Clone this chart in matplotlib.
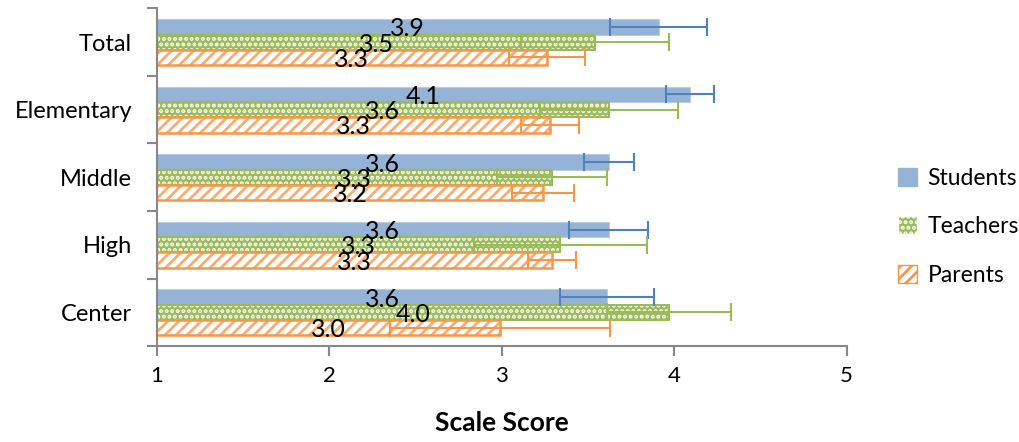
import matplotlib
matplotlib.use("Agg")
import matplotlib.pyplot as plt
import matplotlib.patches as mpatches
import numpy as np

plt.rcParams['font.family'] = ['Lato', 'DejaVu Sans']
plt.rcParams['hatch.linewidth'] = 2.0

categories = ['Total', 'Elementary', 'Middle', 'High', 'Center']
series = ['Students', 'Teachers', 'Parents']
students = [3.91, 4.09, 3.62, 3.62, 3.61]
teachers = [3.54, 3.62, 3.29, 3.34, 3.97]
parents = [3.26, 3.28, 3.24, 3.29, 2.99]
students_err = [0.28, 0.14, 0.145, 0.23, 0.27]
teachers_err = [0.43, 0.40, 0.32, 0.50, 0.36]
parents_err = [0.22, 0.17, 0.18, 0.14, 0.64]

blue = '#95B3D7'
blue_dark = '#4F81BD'
green = '#9BBB59'
orange = '#F79646'

fig = plt.figure(figsize=(10.2, 4.42), dpi=100)
ax = fig.add_axes([0.154, 0.217, 0.676, 0.764])

y = np.arange(len(categories))
h = 0.226

# Students - solid
ax.barh(y - h, students, height=h, color=blue, edgecolor='#B8CCE4', linewidth=0.8)
ax.errorbar(students, y - h, xerr=students_err, fmt='none', ecolor=blue_dark,
            elinewidth=1.5, capsize=6.5, capthick=1.5)

# Teachers - green with white dots
ax.barh(y, teachers, height=h, color=green, edgecolor='white', hatch='...', linewidth=0)
ax.barh(y, teachers, height=h, fill=False, edgecolor=green, linewidth=1.5)
ax.errorbar(teachers, y, xerr=teachers_err, fmt='none', ecolor=green,
            elinewidth=1.5, capsize=6.5, capthick=1.5)

# Parents - orange diagonal stripes
ax.barh(y + h, parents, height=h, color='white', edgecolor='#F9AC72', hatch='///', linewidth=0)
ax.barh(y + h, parents, height=h, fill=False, edgecolor=orange, linewidth=1.8)
ax.errorbar(parents, y + h, xerr=parents_err, fmt='none', ecolor=orange,
            elinewidth=1.5, capsize=6.5, capthick=1.5)

# data labels
for vals, off in [(students, -h), (teachers, 0), (parents, h)]:
    for i, v in enumerate(vals):
        ax.text((1 + v) / 2, i + off + 0.03, f"{v:.1f}", ha='center', va='center',
                fontsize=18, color='black')

ax.set_xlim(1, 5)
ax.set_ylim(len(categories) - 0.5, -0.5)
ax.set_xticks([1, 2, 3, 4, 5])
ax.tick_params(axis='x', labelsize=16, length=7, width=1.5, color='#888888', pad=7)

ax.set_yticks(y)
ax.set_yticklabels(categories, fontsize=17)
ax.tick_params(axis='y', which='major', length=0, pad=18)
ax.set_yticks(np.arange(-0.5, len(categories)), minor=True)
ax.tick_params(axis='y', which='minor', length=7, width=1.5, color='#888888')

for s in ['top', 'right']:
    ax.spines[s].set_visible(False)
for s in ['left', 'bottom']:
    ax.spines[s].set_color('#888888')
    ax.spines[s].set_linewidth(1.5)

ax.set_xlabel('Scale Score', fontsize=19, fontweight='bold', labelpad=18)

handles = [
    mpatches.Patch(facecolor=blue, edgecolor=blue, label='Students'),
    mpatches.Patch(facecolor=green, edgecolor='white', hatch='...', label='Teachers'),
    mpatches.Patch(facecolor='white', edgecolor=orange, hatch='///', label='Parents'),
]
fig.legend(handles=handles, loc='center left', bbox_to_anchor=(0.86, 0.487),
           frameon=False, fontsize=16.5, handlelength=0.85, handleheight=0.85,
           labelspacing=1.2, handletextpad=0.45)

fig.savefig('out.png', dpi=100)
